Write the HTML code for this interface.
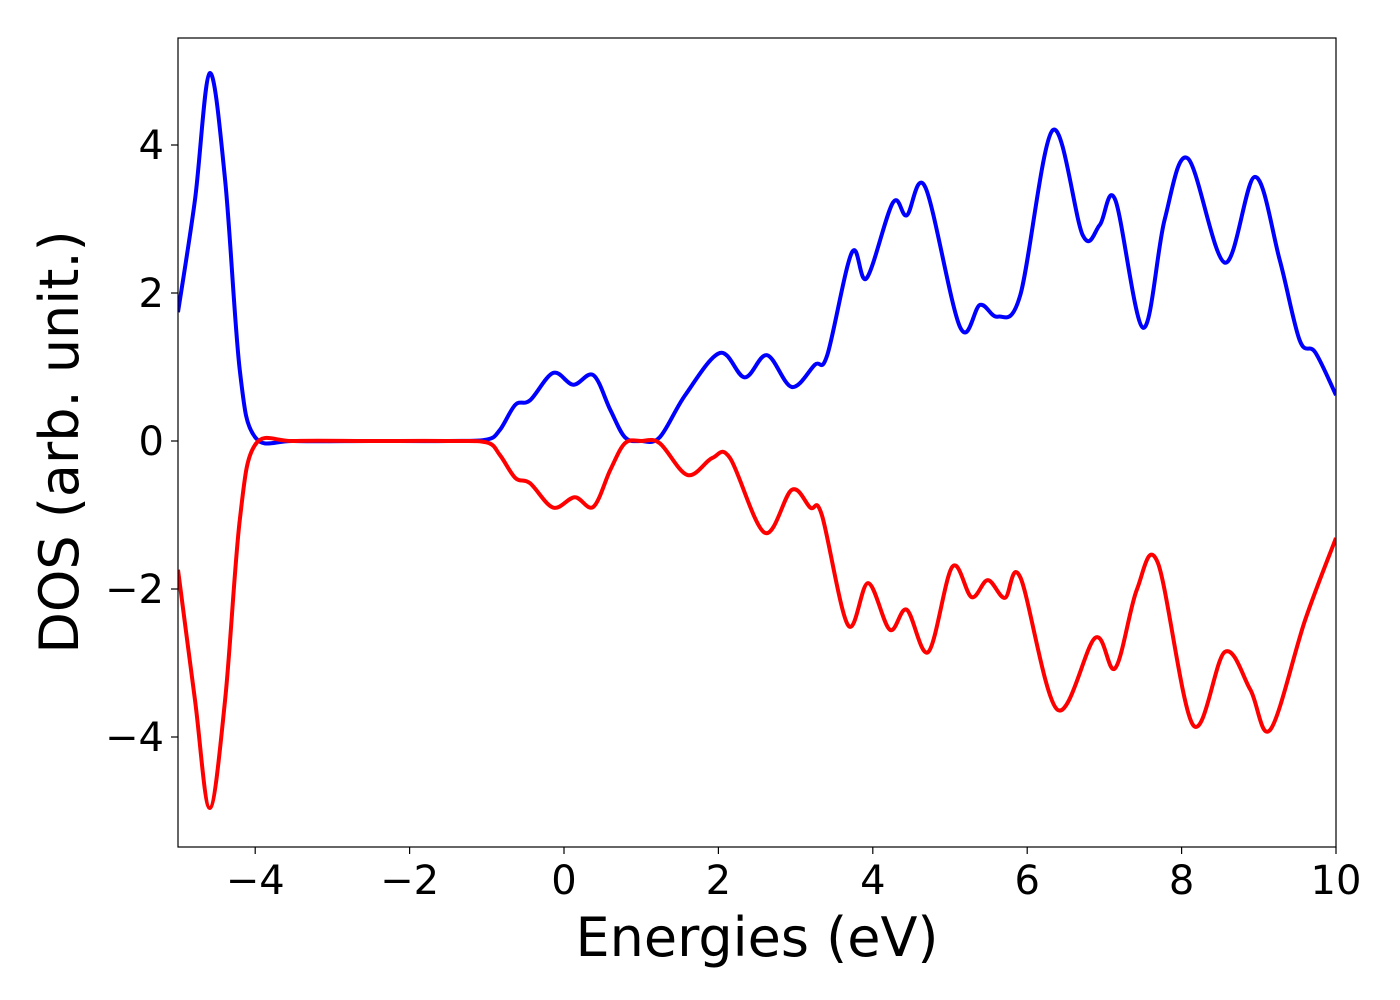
<!DOCTYPE html>
<html><head><meta charset="utf-8"><style>
html,body{margin:0;padding:0;background:#fff;}
svg{display:block;font-family:"DejaVu Sans","Liberation Sans",sans-serif;}
</style></head><body>
<svg id="chart" width="1400" height="1000" viewBox="0 0 1400 1000" xmlns="http://www.w3.org/2000/svg">
<rect x="0" y="0" width="1400" height="1000" fill="#fff"/>
<defs><clipPath id="clip"><rect x="178" y="38" width="1158" height="809"/></clipPath></defs>
<g id="plot" clip-path="url(#clip)"></g>
<rect x="178" y="38" width="1158" height="809" fill="none" stroke="#000" stroke-width="1.2"/>
<g id="axes"></g>
<text x="757" y="956" font-size="54" text-anchor="middle">Energies (eV)</text>
<text x="0" y="0" font-size="54" text-anchor="middle" transform="translate(78,442) rotate(-90)">DOS (arb. unit.)</text>
</svg>
<script>
const xTicks=[-4,-2,0,2,4,6,8,10];
const yTicks=[-4,-2,0,2,4];
const upE=[-5,-4.78,-4.59,-4.39,-4.2,-4.0,-3.5,-2.5,-1.5,-1.0,-0.83,-0.63,-0.44,-0.14,0.12,0.38,0.6,0.79,1.0,1.24,1.57,2.02,2.34,2.63,2.95,3.25,3.41,3.73,3.92,4.26,4.44,4.68,5.13,5.39,5.62,5.91,6.33,6.72,6.94,7.14,7.5,7.78,8.08,8.56,8.95,9.27,9.53,9.73,10];
const upDOS=[1.74,3.26,4.97,3.53,0.96,0.05,0,0,0,0.02,0.15,0.49,0.55,0.92,0.76,0.89,0.42,0.05,0,0.05,0.62,1.19,0.86,1.16,0.73,1.03,1.16,2.55,2.2,3.22,3.05,3.43,1.54,1.84,1.68,1.97,4.2,2.78,2.92,3.26,1.53,2.99,3.82,2.41,3.57,2.45,1.36,1.2,0.62];
const dnE=[-5,-4.78,-4.59,-4.39,-4.2,-4.0,-3.5,-2.5,-1.5,-1.0,-0.83,-0.63,-0.44,-0.14,0.14,0.38,0.6,0.79,1.0,1.24,1.6,1.92,2.15,2.6,2.95,3.19,3.34,3.68,3.94,4.22,4.44,4.72,5.03,5.28,5.49,5.71,5.91,6.39,6.88,7.14,7.42,7.69,8.15,8.56,8.89,9.15,9.6,10];
const dnDOS=[-1.74,-3.5,-4.96,-3.5,-1.07,-0.05,0,0,0,-0.02,-0.19,-0.5,-0.57,-0.9,-0.76,-0.89,-0.39,-0.03,0,-0.03,-0.46,-0.23,-0.23,-1.24,-0.66,-0.9,-1.0,-2.49,-1.92,-2.55,-2.28,-2.85,-1.7,-2.11,-1.88,-2.12,-1.84,-3.63,-2.66,-3.07,-2.01,-1.64,-3.84,-2.85,-3.36,-3.9,-2.42,-1.31];
const X=v=>178+(v+5)*77.2;
const Y=v=>441-v*74;
const NS="http://www.w3.org/2000/svg";
function pathD(xs,ys){
  const p=xs.map((x,i)=>[X(x),Y(ys[i])]);
  let d="M"+p[0][0]+","+p[0][1];
  for(let i=0;i<p.length-1;i++){
    const p0=p[Math.max(0,i-1)],p1=p[i],p2=p[i+1],p3=p[Math.min(p.length-1,i+2)];
    const c1x=p1[0]+(p2[0]-p0[0])/6,c1y=p1[1]+(p2[1]-p0[1])/6;
    const c2x=p2[0]-(p3[0]-p1[0])/6,c2y=p2[1]-(p3[1]-p1[1])/6;
    d+=" C"+c1x+","+c1y+" "+c2x+","+c2y+" "+p2[0]+","+p2[1];
  }
  return d;
}
const plot=document.getElementById("plot");
const up=document.createElementNS(NS,"path");


up.setAttribute("d",pathD(upE,upDOS));up.setAttribute("fill","none");up.setAttribute("stroke","#0000ff");up.setAttribute("stroke-width","4");
plot.appendChild(up);
const dn=document.createElementNS(NS,"path");


dn.setAttribute("d",pathD(dnE,dnDOS));dn.setAttribute("fill","none");dn.setAttribute("stroke","#ff0000");dn.setAttribute("stroke-width","4");
plot.appendChild(dn);
const axes=document.getElementById("axes");
const fmt=v=>v<0?"\u2212"+Math.abs(v):String(v);
xTicks.forEach(v=>{
  const l=document.createElementNS(NS,"line");
  
  
  l.setAttribute("x1",X(v));l.setAttribute("x2",X(v));l.setAttribute("y1",847);l.setAttribute("y2",854);l.setAttribute("stroke","#000");l.setAttribute("stroke-width","1.2");
  axes.appendChild(l);
  const t=document.createElementNS(NS,"text");
  
  
  t.setAttribute("x",X(v));t.setAttribute("y",894);t.setAttribute("font-size","40");t.setAttribute("text-anchor","middle");
  t.textContent=fmt(v);axes.appendChild(t);
});
yTicks.forEach(v=>{
  const l=document.createElementNS(NS,"line");
  
  
  l.setAttribute("x1",171);l.setAttribute("x2",178);l.setAttribute("y1",Y(v));l.setAttribute("y2",Y(v));l.setAttribute("stroke","#000");l.setAttribute("stroke-width","1.2");
  axes.appendChild(l);
  const t=document.createElementNS(NS,"text");
  
  
  t.setAttribute("x",164);t.setAttribute("y",Y(v)+14);t.setAttribute("font-size","40");t.setAttribute("text-anchor","end");
  t.textContent=fmt(v);axes.appendChild(t);
});
</script>
</body></html>
